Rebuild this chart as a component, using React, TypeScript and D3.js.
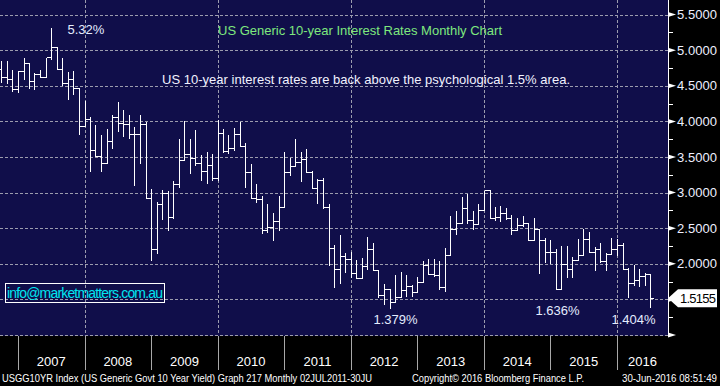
import { useEffect, useRef } from "react";
import * as d3 from "d3";

// monthly OHLC, Sep 2006 .. Jun 2016
const firstMonth = new Date(Date.UTC(2006, 8, 1));

const opens = [
  4.73, 4.63, 4.6, 4.46, 4.71, 4.82, 4.57, 4.66, 4.63, 4.9, 5.04, 4.74, 4.54, 4.6, 4.47, 3.93,
  4.03, 3.6, 3.51, 3.42, 3.72, 4.06, 3.98, 3.96, 3.82, 3.83, 3.96, 2.93, 2.21, 2.84, 3.0, 2.66,
  3.12, 3.46, 3.54, 3.49, 3.41, 3.31, 3.39, 3.21, 3.84, 3.58, 3.62, 3.83, 3.66, 3.29, 2.93, 2.91,
  2.47, 2.51, 2.6, 2.8, 3.29, 3.37, 3.43, 3.47, 3.29, 3.07, 3.17, 2.8, 2.22, 1.92, 2.11, 2.07,
  1.87, 1.8, 1.97, 2.21, 1.91, 1.56, 1.65, 1.46, 1.54, 1.63, 1.69, 1.61, 1.75, 1.99, 1.86, 1.84,
  1.67, 2.13, 2.49, 2.58, 2.78, 2.61, 2.56, 2.75, 3.03, 2.64, 2.66, 2.72, 2.64, 2.47, 2.54, 2.57,
  2.34, 2.49, 2.33, 2.17, 2.17, 1.64, 2.0, 1.93, 2.05, 2.13, 2.35, 2.17, 2.21, 2.04, 2.14, 2.21,
  2.27, 1.92, 1.73, 1.77, 1.83, 1.85,
];
const highs = [
  4.86, 4.86, 4.74, 4.72, 4.91, 4.83, 4.69, 4.74, 4.9, 5.32, 5.05, 4.9, 4.71, 4.72, 4.47, 4.3,
  4.08, 3.97, 3.82, 3.91, 4.1, 4.29, 4.18, 4.1, 3.93, 4.11, 4.0, 3.06, 2.88, 3.05, 3.04, 3.17,
  3.76, 4.02, 3.77, 3.9, 3.54, 3.58, 3.56, 4.04, 3.91, 3.83, 3.92, 4.01, 3.71, 3.42, 3.14, 2.97,
  2.85, 2.73, 2.97, 3.58, 3.5, 3.77, 3.59, 3.62, 3.32, 3.21, 3.22, 2.85, 2.28, 2.42, 2.16, 2.18,
  2.07, 2.09, 2.39, 2.31, 1.92, 1.73, 1.66, 1.86, 1.9, 1.86, 1.72, 1.83, 2.05, 2.08, 2.08, 2.05,
  2.23, 2.68, 2.76, 2.95, 3.0, 2.76, 2.85, 3.04, 3.04, 2.81, 2.82, 2.8, 2.7, 2.66, 2.69, 2.58,
  2.66, 2.49, 2.38, 2.35, 2.22, 2.27, 2.26, 2.11, 2.36, 2.5, 2.46, 2.25, 2.3, 2.17, 2.38, 2.36,
  2.3, 1.96, 2.0, 1.94, 1.89, 1.86,
];
const lows = [
  4.55, 4.54, 4.43, 4.41, 4.59, 4.47, 4.45, 4.62, 4.62, 4.88, 4.74, 4.51, 4.32, 4.39, 3.82, 3.93,
  3.31, 3.51, 3.3, 3.42, 3.62, 3.86, 3.79, 3.77, 3.11, 3.41, 2.93, 2.05, 2.15, 2.63, 2.48, 2.64,
  3.08, 3.46, 3.28, 3.39, 3.17, 3.13, 3.18, 3.18, 3.57, 3.56, 3.6, 3.66, 3.08, 2.93, 2.87, 2.43,
  2.45, 2.34, 2.47, 2.8, 3.25, 3.37, 3.16, 3.29, 3.06, 2.85, 2.78, 1.98, 1.68, 1.73, 1.88, 1.81,
  1.8, 1.8, 1.92, 1.91, 1.54, 1.44, 1.38, 1.46, 1.54, 1.55, 1.55, 1.61, 1.75, 1.86, 1.83, 1.64,
  1.62, 2.13, 2.42, 2.57, 2.57, 2.49, 2.56, 2.75, 2.64, 2.61, 2.6, 2.63, 2.42, 2.47, 2.53, 2.33,
  2.33, 1.87, 2.02, 2.01, 1.64, 1.64, 1.81, 1.81, 2.05, 2.13, 2.17, 1.91, 2.03, 1.91, 2.14, 2.13,
  1.92, 1.54, 1.7, 1.69, 1.7, 1.4,
];
const closes = [
  4.63, 4.6, 4.46, 4.71, 4.82, 4.57, 4.66, 4.63, 4.9, 5.04, 4.74, 4.54, 4.6, 4.47, 3.93, 4.03,
  3.6, 3.51, 3.42, 3.72, 4.06, 3.98, 3.96, 3.82, 3.83, 3.96, 2.93, 2.21, 2.84, 3.0, 2.66, 3.12,
  3.46, 3.54, 3.49, 3.41, 3.31, 3.39, 3.21, 3.84, 3.58, 3.62, 3.83, 3.66, 3.29, 2.93, 2.91, 2.47,
  2.51, 2.6, 2.8, 3.29, 3.37, 3.43, 3.47, 3.29, 3.07, 3.17, 2.8, 2.22, 1.92, 2.11, 2.07, 1.87,
  1.8, 1.97, 2.21, 1.91, 1.56, 1.65, 1.46, 1.54, 1.63, 1.69, 1.61, 1.75, 1.99, 1.86, 1.84, 1.67,
  2.13, 2.49, 2.58, 2.78, 2.61, 2.56, 2.75, 3.03, 2.64, 2.66, 2.72, 2.64, 2.47, 2.54, 2.57, 2.34,
  2.49, 2.33, 2.17, 2.17, 1.64, 2.0, 1.93, 2.05, 2.13, 2.35, 2.17, 2.21, 2.04, 2.14, 2.21, 2.27,
  1.92, 1.73, 1.77, 1.83, 1.85, 1.5155,
];

const years = [2007, 2008, 2009, 2010, 2011, 2012, 2013, 2014, 2015, 2016];
const gridYears = [2008, 2010, 2012, 2014, 2016];
const yTicks = [1.0, 1.5, 2.0, 2.5, 3.0, 3.5, 4.0, 4.5, 5.0, 5.5];
const yLabels = [2.0, 2.5, 3.0, 3.5, 4.0, 4.5, 5.0, 5.5];

// text, bar index, which price to anchor on
const noteText = ["5.32%", "1.379%", "1.404%", "1.636%"];
const noteBar = [9, 70, 117, 100];
const noteValue = [5.32, 1.379, 1.404, 1.636];

const title = "US Generic 10-year Interest Rates Monthly Chart";
const subtitle = "US 10-year interest rates are back above the psychological 1.5% area.";
const footLeft = "USGG10YR Index (US Generic Govt 10 Year Yield) Graph 217  Monthly 02JUL2011-30JU";
const footMid = "Copyright\u00a9 2016 Bloomberg Finance L.P.";
const footRight = "30-Jun-2016 08:51:49";

const W = 720;
const H = 386;
const plotRight = 668;
const plotBottom = 335;
const FONT = "'Liberation Sans', Arial, sans-serif";

const App = () => {
  const ref = useRef<SVGSVGElement>(null);

  useEffect(() => {
    const svg = d3.select(ref.current);
    svg.selectAll("*").remove();

    const x = d3
      .scaleUtc()
      .domain([new Date(Date.UTC(2007, 0, 1)), new Date(Date.UTC(2016, 0, 1))])
      .range([18, 617]);
    const y = d3.scaleLinear().domain([1, 5.705]).range([plotBottom, 0]);

    const months = d3.utcMonth.range(firstMonth, d3.utcMonth.offset(firstMonth, closes.length));
    // bars sit at the end of their month
    const barX = (i: number) => Math.round(x(d3.utcMonth.offset(months[i], 1))) + 0.5;
    const py = (v: number) => Math.round(y(v)) + 0.5;

    svg.append("rect").attr("width", W).attr("height", H).attr("fill", "#000");
    svg
      .append("rect")
      .attr("width", plotRight)
      .attr("height", plotBottom + 1)
      .attr("fill", "#100e4a");

    // grid
    const grid = svg.append("g").attr("stroke", "#9c9cae").attr("stroke-dasharray", "3,2");
    grid
      .selectAll("line.h")
      .data(yTicks)
      .enter()
      .append("line")
      .attr("x1", 0)
      .attr("x2", plotRight)
      .attr("y1", (d) => py(d))
      .attr("y2", (d) => py(d));
    grid
      .selectAll("line.v")
      .data(gridYears)
      .enter()
      .append("line")
      .attr("x1", (d) => Math.round(x(new Date(Date.UTC(d, 0, 1)))) + 0.5)
      .attr("x2", (d) => Math.round(x(new Date(Date.UTC(d, 0, 1)))) + 0.5)
      .attr("y1", 0)
      .attr("y2", plotBottom);

    // OHLC bars
    const bars = d3.range(closes.length).map((i) => {
      const bx = barX(i);
      return `M${bx},${py(highs[i])}V${py(lows[i])}M${bx - 3},${py(opens[i])}H${bx}M${bx},${py(
        closes[i]
      )}H${bx + 3}`;
    });
    svg
      .append("g")
      .selectAll("path")
      .data(bars)
      .enter()
      .append("path")
      .attr("d", (d) => d)
      .attr("fill", "none")
      .attr("stroke", "#fff")
      .attr("stroke-width", 1)
      .attr("shape-rendering", "crispEdges");

    // texts inside the plot
    svg
      .append("text")
      .attr("x", 218)
      .attr("y", 35)
      .attr("font-family", FONT)
      .attr("font-size", 13)
      .attr("fill", "#7ee87e")
      .attr("textLength", 284)
      .text(title);
    svg
      .append("text")
      .attr("x", 162)
      .attr("y", 84)
      .attr("font-family", FONT)
      .attr("font-size", 13)
      .attr("fill", "#f2f2ff")
      .attr("textLength", 408)
      .text(subtitle);

    const noteDx = [16, 5, -17, 1];
    const noteDy = [7, 16, 18, 25];
    svg
      .append("g")
      .selectAll("text")
      .data(noteText)
      .enter()
      .append("text")
      .attr("x", (_, i) => barX(noteBar[i]) + noteDx[i])
      .attr("y", (_, i) => y(noteValue[i]) + noteDy[i])
      .attr("text-anchor", (_, i) => (i === 0 ? "start" : "middle"))
      .attr("font-family", FONT)
      .attr("font-size", 13)
      .attr("fill", "#e4ecff")
      .text((d) => d);

    svg
      .append("rect")
      .attr("x", 5.5)
      .attr("y", 283.5)
      .attr("width", 159)
      .attr("height", 19)
      .attr("fill", "none")
      .attr("stroke", "#fff");
    svg
      .append("text")
      .attr("x", 7)
      .attr("y", 298)
      .attr("font-family", FONT)
      .attr("font-size", 14)
      .attr("fill", "#00e6f0")
      .attr("textLength", 156)
      .text("info@marketmatters.com.au");

    // right axis
    const axis = svg.append("g");
    axis
      .append("line")
      .attr("x1", plotRight + 0.5)
      .attr("x2", plotRight + 0.5)
      .attr("y1", 0)
      .attr("y2", plotBottom + 1)
      .attr("stroke", "#fff");
    axis
      .selectAll("path.major")
      .data(yTicks)
      .enter()
      .append("path")
      .attr("d", (d) => `M${plotRight},${y(d) - 2.5}L${plotRight + 8},${y(d)}L${plotRight},${y(d) + 2.5}Z`)
      .attr("fill", "#fff");
    axis
      .selectAll("line.minor")
      .data(yTicks.map((d) => d + 0.25))
      .enter()
      .append("line")
      .attr("x1", plotRight)
      .attr("x2", plotRight + 5)
      .attr("y1", (d) => py(d))
      .attr("y2", (d) => py(d))
      .attr("stroke", "#fff");
    axis
      .selectAll("text")
      .data(yLabels)
      .enter()
      .append("text")
      .attr("x", 677)
      .attr("y", (d) => y(d))
      .attr("dy", "0.35em")
      .attr("font-family", FONT)
      .attr("font-size", 13)
      .attr("fill", "#eef0ff")
      .attr("textLength", 40)
      .text((d) => d3.format(".4f")(d));

    // last price flag
    const last = closes[closes.length - 1];
    const ly = y(last);
    svg
      .append("path")
      .attr(
        "d",
        `M${plotRight},${ly}L${plotRight + 10},${ly - 9}H${W - 3}V${ly + 9}H${plotRight + 10}Z`
      )
      .attr("fill", "#fff");
    svg
      .append("text")
      .attr("x", plotRight + 12)
      .attr("y", ly)
      .attr("dy", "0.36em")
      .attr("font-family", FONT)
      .attr("font-size", 13)
      .attr("fill", "#000")
      .attr("textLength", 36)
      .text(d3.format(".4f")(last));

    // year axis
    const yearAxis = svg.append("g");
    yearAxis
      .selectAll("line")
      .data(years)
      .enter()
      .append("line")
      .attr("x1", (d) => Math.round(x(new Date(Date.UTC(d, 0, 1)))) + 0.5)
      .attr("x2", (d) => Math.round(x(new Date(Date.UTC(d, 0, 1)))) + 0.5)
      .attr("y1", plotBottom + 1)
      .attr("y2", 370)
      .attr("stroke", "#a8a8a8");
    yearAxis
      .selectAll("text")
      .data(years)
      .enter()
      .append("text")
      .attr("x", (d) => {
        const a = Math.max(0, x(new Date(Date.UTC(d, 0, 1))));
        const b = Math.min(plotRight, x(new Date(Date.UTC(d + 1, 0, 1))));
        return (a + b) / 2;
      })
      .attr("y", 366)
      .attr("text-anchor", "middle")
      .attr("font-family", FONT)
      .attr("font-size", 13)
      .attr("fill", "#fff")
      .text((d) => d);

    // footer
    const foot = [
      { t: footLeft, x: 2, w: 370 },
      { t: footMid, x: 412, w: 172 },
      { t: footRight, x: 622, w: 95 },
    ];
    svg
      .append("g")
      .selectAll("text")
      .data(foot)
      .enter()
      .append("text")
      .attr("x", (d) => d.x)
      .attr("y", 382)
      .attr("font-family", FONT)
      .attr("font-size", 10)
      .attr("fill", "#fff")
      .attr("textLength", (d) => d.w)
      .attr("lengthAdjust", "spacingAndGlyphs")
      .text((d) => d.t);
  }, []);

  return (
    <svg
      ref={ref}
      width={W}
      height={H}
      style={{ position: "absolute", left: 0, top: 0, display: "block" }}
    />
  );
};

export default App;
